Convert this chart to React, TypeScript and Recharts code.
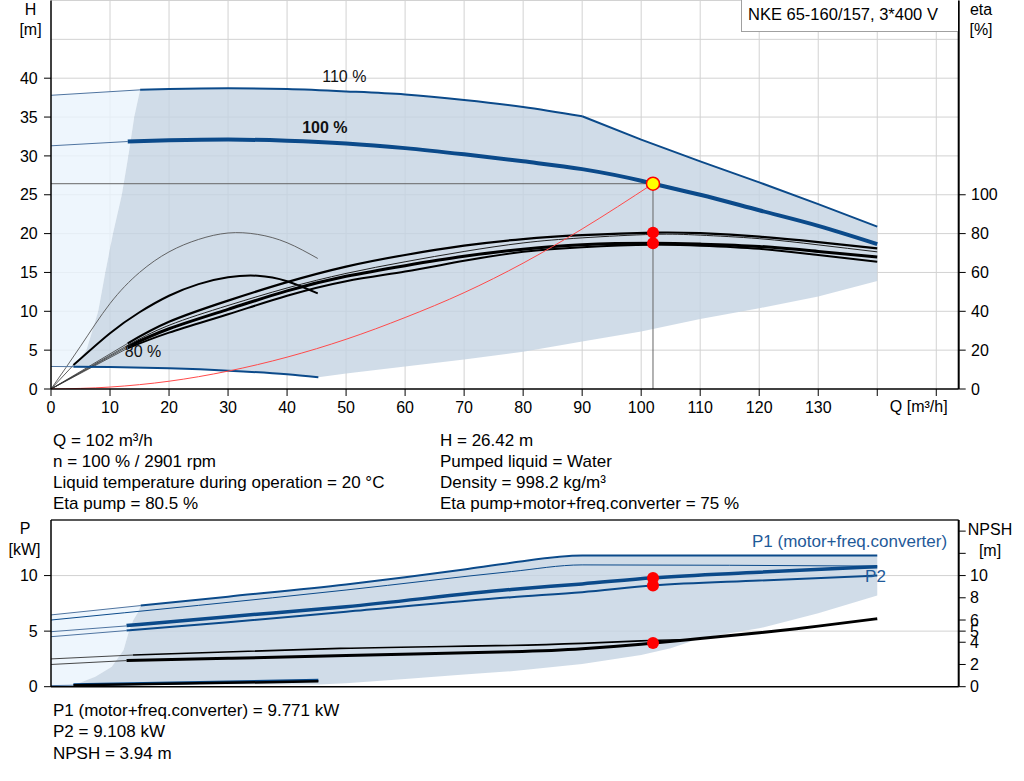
import React from 'react';
import {
  ComposedChart,
  Line,
  Area,
  XAxis,
  YAxis,
  CartesianGrid,
  ReferenceDot,
  ReferenceLine,
} from 'recharts';

// ---------- axes ----------
const qTicks = [0, 10, 20, 30, 40, 50, 60, 70, 80, 90, 100, 110, 120, 130, 140, 150];
const qGrid = [10, 20, 30, 40, 50, 60, 70, 80, 90, 100, 110, 120, 130, 140, 150];
const hTicks = [0, 5, 10, 15, 20, 25, 30, 35, 40];
const hGrid = [5, 10, 15, 20, 25, 30, 35, 40, 45, 50];
const etaTicks = [0, 20, 40, 60, 80, 100];
const pTicks = [0, 5, 10];
const pGrid = [5, 10];
const npshTicks = [0, 2, 4, 5, 6, 8, 10, 12, 14];

// ---------- duty point ----------
const opQ = 102;
const opH = 26.42;
const opEtaPump = 80.5;
const opEtaTotal = 75;
const opP1 = 9.771;
const opP2 = 9.108;
const opNpsh = 3.94;

// ---------- head curves [m] ----------
const h110ExtQ = [0, 15.1];
const h110ExtH = [37.8, 38.5];
const h110Q = [15.1, 20, 30, 40, 50, 60, 70, 80, 90];
const h110H = [38.5, 38.6, 38.7, 38.6, 38.3, 37.9, 37.2, 36.3, 35.1];
const h110DropQ = [90, 100, 110, 120, 130, 140];
const h110DropH = [35.1, 32.1, 29.3, 26.6, 23.8, 20.9];
const h100ExtQ = [0, 13];
const h100ExtH = [31.3, 31.85];
const h100Q = [13, 20, 30, 40, 50, 60, 70, 80, 90, 100, 102, 110, 120, 130, 140];
const h100H = [31.85, 32.0, 32.1, 31.95, 31.6, 31.0, 30.2, 29.3, 28.3, 26.8, 26.42, 25.0, 23.0, 21.0, 18.65];
const h80ExtQ = [0, 3.8];
const h80ExtH = [2.9, 2.87];
const h80Q = [3.8, 10, 20, 30, 40, 45.3];
const h80H = [2.87, 2.82, 2.66, 2.36, 1.89, 1.5];
const sysQ = [0, 10, 20, 30, 40, 50, 60, 70, 80, 90, 102];
const sysH = [0, 0.25, 1.0, 2.3, 4.1, 6.4, 9.2, 12.4, 16.2, 20.6, 26.42];

// operating range (head)
const hEdgeQ = [3.8, 6, 8, 9.2, 10.5, 12, 13.1, 14.1, 15.1];
const hEdgeH = [2.87, 5, 10, 15, 20, 25, 30, 35, 38.5];
const hLightLow0 = 2.9;
const hLightHigh = [37.8, 37.98, 38.08, 38.17, 38.23, 38.29, 38.36, 38.41, 38.45, 38.5];
const hRangeQ = [20, 30, 40, 45.3, 50, 60, 70, 80, 90, 100, 110, 120, 130, 140];
const hRangeLowEdge = [2.87, 2.85, 2.84, 2.83, 2.82, 2.8, 2.79, 2.78, 2.76];
const hRangeLow = [2.66, 2.36, 1.89, 1.5, 2.0, 2.9, 3.8, 4.8, 6.1, 7.4, 9.0, 10.4, 11.9, 13.9];
const hRangeHigh = [38.6, 38.7, 38.6, 38.5, 38.3, 37.9, 37.2, 36.3, 35.1, 32.1, 29.3, 26.6, 23.8, 20.9];

// ---------- efficiency curves [%] ----------
const etaQ = [13, 20, 30, 40, 50, 60, 70, 80, 90, 102, 110, 120, 130, 140];
const etaPump = [23.5, 34.6, 45.5, 55.0, 63.0, 69.0, 73.8, 77.2, 79.2, 80.5, 80.2, 78.4, 75.6, 72.4];
const etaPumpMax = [22.5, 32.8, 43.0, 52.0, 59.5, 65.5, 70.8, 75.2, 77.8, 79.6, 79.2, 77.4, 74.2, 70.6];
const etaTotal = [21.8, 31.0, 41.0, 50.5, 58.0, 63.5, 68.3, 72.0, 74.3, 75.0, 74.6, 73.4, 70.8, 68.0];
const etaTotalMax = [21.0, 29.0, 38.5, 48.0, 55.5, 60.5, 66.0, 70.6, 73.0, 74.2, 73.8, 72.2, 69.0, 65.5];
const etaExtQ = [0, 13];
const etaMinPumpQ = [0, 5, 10, 15, 20, 25, 30, 35, 40, 45.2];
const etaMinPump = [0, 22, 44, 60, 70.6, 77, 80.3, 79.6, 75.3, 67.2];
const etaMinTotalExtQ = [0, 3.8];
const etaMinTotalExt = [0, 12.3];
const etaMinTotalQ = [3.8, 10, 15, 20, 25, 30, 35, 40, 45.2];
const etaMinTotal = [12.3, 28.7, 39.5, 48.0, 54.0, 57.5, 58.3, 55.5, 49.2];

// ---------- power [kW] and NPSH [m] ----------
const p1MaxExtQ = [0, 15.2];
const p1MaxExt = [6.46, 7.3];
const p1MaxQ = [15.2, 30, 50, 60, 70, 78, 90, 140];
const p1Max = [7.3, 8.1, 9.2, 9.85, 10.55, 11.15, 11.8, 11.8];
const p2MaxQ = [0, 50, 78, 90, 140];
const p2Max = [6.0, 8.7, 10.36, 10.96, 10.85];
const pExtQ = [0, 12.8];
const p1Ext = [4.95, 5.47];
const p2Ext = [4.5, 5.05];
const pQ = [12.8, 30, 50, 78, 90, 102, 120, 140];
const p1 = [5.5, 6.3, 7.2, 8.75, 9.25, 9.8, 10.3, 10.8];
const p2 = [5.05, 5.8, 6.75, 8.05, 8.5, 9.1, 9.55, 10.0];
const pMinExtQ = [0, 3.8];
const pMinExt = [0.1, 0.13];
const pMinQ = [3.8, 45.3];
const p1Min = [0.18, 0.58];
const p2Min = [0.13, 0.48];
const npshMaxExtQ = [0, 13.9];
const npshMaxExt = [2.5, 2.85];
const npshMaxQ = [13.9, 49, 73, 90, 100, 107];
const npshMax = [2.85, 3.45, 3.67, 3.9, 4.12, 4.22];
const npshExtQ = [0, 12.8];
const npshExt = [2.0, 2.35];
const npshQ = [12.8, 30, 50, 78, 90, 100, 110, 120, 130, 140];
const npsh = [2.35, 2.55, 2.8, 3.15, 3.42, 3.83, 4.33, 4.85, 5.45, 6.12];

// operating range (power)
const pEdgeQ = [3.8, 7.5, 10.3, 12.3, 13.1, 13.95, 14.8, 15.2];
const pEdgeP = [0.12, 0.9, 1.8, 3.3, 4.8, 6.0, 6.75, 7.3];
const pLightLow0 = 0.1;
const pLightHigh = [6.46, 6.67, 6.87, 7.03, 7.14, 7.18, 7.23, 7.27, 7.3];
const pRangeLowEdge = [0.12, 0.13, 0.14, 0.15, 0.16, 0.16, 0.17, 0.17];
const pRangeQ = [20, 30, 45.3, 50, 60, 70, 78, 90, 100, 105, 110, 120, 130, 140];
const pRangeLow = [0.18, 0.19, 0.2, 0.3, 0.7, 1.1, 1.4, 2.05, 2.85, 3.45, 4.35, 5.25, 6.6, 8.2];
const pRangeHigh = [7.55, 8.1, 8.95, 9.2, 9.85, 10.55, 11.15, 11.8, 11.8, 11.8, 11.8, 11.8, 11.8, 11.8];

const infoLeft = [
  'Q = 102 m³/h',
  'n = 100 % / 2901 rpm',
  'Liquid temperature during operation = 20 °C',
  'Eta pump = 80.5 %',
];
const infoRight = [
  'H = 26.42 m',
  'Pumped liquid = Water',
  'Density = 998.2 kg/m³',
  'Eta pump+motor+freq.converter = 75 %',
];
const infoBottom = ['P1 (motor+freq.converter) = 9.771 kW', 'P2 = 9.108 kW', 'NPSH = 3.94 m'];

const FONT = '"Liberation Sans", Arial, sans-serif';
const BLUE = '#0b4a8a';
const BLUE_THIN = '#4f74a0';
const FILL_DARK = '#c4d3e2';
const FILL_LIGHT = '#eaf4fc';
const GRID = '#d2d2d2';
const RED = '#ff0000';

const rows = (qs: number[], vs: number[]) => qs.map((q, i) => ({ q, v: vs[i] }));
const band = (qs: number[], lo: number[], hi: number[]) =>
  qs.map((q, i) => ({ q, r: [lo[i], hi[i]] }));

const headLight = band([0, ...hEdgeQ], [hLightLow0, ...hEdgeH], hLightHigh);
const headRange = band(
  [...hEdgeQ, ...hRangeQ],
  [...hRangeLowEdge, ...hRangeLow],
  [...hEdgeH, ...hRangeHigh],
);
const powerLight = band([0, ...pEdgeQ], [pLightLow0, ...pEdgeP], pLightHigh);
const powerRange = band(
  [...pEdgeQ, ...pRangeQ],
  [...pRangeLowEdge, ...pRangeLow],
  [...pEdgeP, ...pRangeHigh],
);

type Curve = {
  id: string;
  data: { q: number; v: number }[];
  color: string;
  w: number;
  axis: string;
  kind?: 'monotone' | 'natural' | 'linear';
};

const headCurves: Curve[] = [
  { id: 'etaExtA', data: rows(etaExtQ, [0, etaPump[0]]), color: '#333', w: 0.8, axis: 'eta' },
  { id: 'etaExtB', data: rows(etaExtQ, [0, etaPumpMax[0]]), color: '#333', w: 0.8, axis: 'eta' },
  { id: 'etaExtC', data: rows(etaExtQ, [0, etaTotal[0]]), color: '#333', w: 0.8, axis: 'eta' },
  { id: 'etaExtD', data: rows(etaExtQ, [0, etaTotalMax[0]]), color: '#333', w: 0.8, axis: 'eta' },
  { id: 'etaMinPump', data: rows(etaMinPumpQ, etaMinPump), color: '#555', w: 0.9, axis: 'eta', kind: 'natural' },
  { id: 'etaMinTotExt', data: rows(etaMinTotalExtQ, etaMinTotalExt), color: '#333', w: 0.8, axis: 'eta' },
  { id: 'etaMinTot', data: rows(etaMinTotalQ, etaMinTotal), color: '#000', w: 2, axis: 'eta', kind: 'natural' },
  { id: 'etaD', data: rows(etaQ, etaTotalMax), color: '#000', w: 2, axis: 'eta', kind: 'natural' },
  { id: 'etaC', data: rows(etaQ, etaTotal), color: '#000', w: 3, axis: 'eta', kind: 'natural' },
  { id: 'etaB', data: rows(etaQ, etaPumpMax), color: '#222', w: 1, axis: 'eta', kind: 'natural' },
  { id: 'etaA', data: rows(etaQ, etaPump), color: '#000', w: 2.2, axis: 'eta', kind: 'natural' },
  { id: 'h110Ext', data: rows(h110ExtQ, h110ExtH), color: BLUE_THIN, w: 1, axis: 'h' },
  { id: 'h110', data: rows(h110Q, h110H), color: BLUE, w: 2, axis: 'h' },
  { id: 'h110Drop', data: rows(h110DropQ, h110DropH), color: BLUE, w: 2, axis: 'h', kind: 'linear' },
  { id: 'h100Ext', data: rows(h100ExtQ, h100ExtH), color: BLUE_THIN, w: 1, axis: 'h' },
  { id: 'h100', data: rows(h100Q, h100H), color: BLUE, w: 4, axis: 'h' },
  { id: 'h80Ext', data: rows(h80ExtQ, h80ExtH), color: BLUE_THIN, w: 1, axis: 'h' },
  { id: 'h80', data: rows(h80Q, h80H), color: BLUE, w: 2, axis: 'h' },
  { id: 'system', data: rows(sysQ, sysH), color: '#ff4a4a', w: 1, axis: 'h' },
];

const powerCurves: Curve[] = [
  { id: 'p1MaxExt', data: rows(p1MaxExtQ, p1MaxExt), color: BLUE_THIN, w: 1, axis: 'p' },
  { id: 'p1Max', data: rows(p1MaxQ, p1Max), color: BLUE, w: 2, axis: 'p' },
  { id: 'p2Max', data: rows(p2MaxQ, p2Max), color: BLUE, w: 1, axis: 'p' },
  { id: 'p1Ext', data: rows(pExtQ, p1Ext), color: BLUE_THIN, w: 1, axis: 'p' },
  { id: 'p1', data: rows(pQ, p1), color: BLUE, w: 3.5, axis: 'p' },
  { id: 'p2Ext', data: rows(pExtQ, p2Ext), color: BLUE_THIN, w: 1, axis: 'p' },
  { id: 'p2', data: rows(pQ, p2), color: BLUE, w: 2, axis: 'p' },
  { id: 'pMinExt', data: rows(pMinExtQ, pMinExt), color: BLUE_THIN, w: 1, axis: 'p' },
  { id: 'p1Min', data: rows(pMinQ, p1Min), color: BLUE, w: 3, axis: 'p' },
  { id: 'p2Min', data: rows(pMinQ, p2Min), color: '#000', w: 2.5, axis: 'p' },
  { id: 'npshMaxExt', data: rows(npshMaxExtQ, npshMaxExt), color: '#333', w: 0.9, axis: 'npsh' },
  { id: 'npshMax', data: rows(npshMaxQ, npshMax), color: '#000', w: 1.6, axis: 'npsh', kind: 'natural' },
  { id: 'npshExt', data: rows(npshExtQ, npshExt), color: '#333', w: 0.9, axis: 'npsh' },
  { id: 'npsh', data: rows(npshQ, npsh), color: '#000', w: 3, axis: 'npsh', kind: 'natural' },
];

const tickStyle = { fill: '#000', fontSize: 16, fontFamily: FONT };
const axisLine = { stroke: '#000', strokeWidth: 1.5 };
const tickLine = { stroke: '#000', strokeWidth: 1 };

function Tag({ x, y, text, size = 16, color = '#000', w = 80 }: any) {
  return (
    <div
      style={{
        position: 'absolute',
        left: x - w / 2,
        top: y - 10,
        width: w,
        height: 20,
        lineHeight: '20px',
        fontSize: size,
        color,
        textAlign: 'center',
        whiteSpace: 'nowrap',
      }}
    >
      {text}
    </div>
  );
}

function TextBlock({ x, y, lines }: { x: number; y: number; lines: string[] }) {
  return (
    <div style={{ position: 'absolute', left: x, top: y, fontSize: 17, lineHeight: '21.3px', whiteSpace: 'nowrap' }}>
      {lines.map((l) => (
        <div key={l}>{l}</div>
      ))}
    </div>
  );
}

function renderCurve(c: Curve) {
  return (
    <Line
      key={c.id}
      data={c.data}
      dataKey="v"
      xAxisId="q"
      yAxisId={c.axis}
      type={c.kind ?? 'monotone'}
      stroke={c.color}
      strokeWidth={c.w}
      dot={false}
      activeDot={false}
      isAnimationActive={false}
    />
  );
}

function HeadChart() {
  return (
    <ComposedChart width={1024} height={420} margin={{ top: 0.5, right: 15.3, bottom: 1, left: 11 }}>
      <Area xAxisId="q" yAxisId="h" data={headLight} dataKey="r" type="linear" stroke="none" fill={FILL_LIGHT} fillOpacity={0.8} isAnimationActive={false} />
      <Area xAxisId="q" yAxisId="h" data={headRange} dataKey="r" type="linear" stroke="none" fill={FILL_DARK} fillOpacity={0.8} isAnimationActive={false} />
      <CartesianGrid xAxisId="q" yAxisId="h" stroke={GRID} horizontalValues={hGrid} verticalValues={qGrid} />
      <XAxis
        xAxisId="q"
        type="number"
        dataKey="q"
        domain={[0, 153.8]}
        allowDataOverflow
        ticks={qTicks}
        interval={0}
        tickFormatter={(v: number) => (v >= 140 ? '' : String(v))}
        height={30}
        tick={tickStyle}
        axisLine={axisLine}
        tickLine={tickLine}
        tickSize={7}
        tickMargin={5.6}
      />
      <YAxis
        yAxisId="h"
        type="number"
        domain={[0, 50]}
        allowDataOverflow
        ticks={hTicks}
        interval={0}
        width={40}
        tick={tickStyle}
        axisLine={axisLine}
        tickLine={tickLine}
        tickSize={7}
        tickMargin={6.3}
      />
      <YAxis
        yAxisId="eta"
        orientation="right"
        type="number"
        domain={[0, 200]}
        allowDataOverflow
        ticks={etaTicks}
        interval={0}
        width={50}
        tick={{ ...tickStyle, textAnchor: 'start' }}
        axisLine={{ stroke: '#000', strokeWidth: 2 }}
        tickLine={tickLine}
        tickSize={7}
        tickMargin={5.3}
      />
      <ReferenceLine xAxisId="q" yAxisId="h" segment={[{ x: 0, y: opH }, { x: opQ, y: opH }]} stroke="#666" strokeWidth={1} />
      <ReferenceLine xAxisId="q" yAxisId="h" segment={[{ x: opQ, y: 0 }, { x: opQ, y: opH }]} stroke="#666" strokeWidth={1} />
      {headCurves.map(renderCurve)}
      <ReferenceDot xAxisId="q" yAxisId="eta" x={opQ} y={opEtaPump} r={6} fill={RED} stroke="none" />
      <ReferenceDot xAxisId="q" yAxisId="eta" x={opQ} y={opEtaTotal} r={6} fill={RED} stroke="none" />
      <ReferenceDot xAxisId="q" yAxisId="h" x={opQ} y={opH} r={6.5} fill="#ffff00" stroke={RED} strokeWidth={1.5} />
      <ReferenceDot xAxisId="q" yAxisId="h" x={49.7} y={40.2} r={0} label={{ value: '110 %', position: 'center', fill: '#111', fontSize: 16 }} />
      <ReferenceDot xAxisId="q" yAxisId="h" x={46.4} y={33.7} r={0} label={{ value: '100 %', position: 'center', fill: '#111', fontSize: 16, fontWeight: 'bold' }} />
      <ReferenceDot xAxisId="q" yAxisId="h" x={15.6} y={4.9} r={0} label={{ value: '80 %', position: 'center', fill: '#111', fontSize: 16 }} />
    </ComposedChart>
  );
}

function PowerChart() {
  return (
    <ComposedChart width={1024} height={200} margin={{ top: 20, right: 15.3, bottom: 3.3, left: 11 }}>
      <Area xAxisId="q" yAxisId="p" data={powerLight} dataKey="r" type="linear" stroke="none" fill={FILL_LIGHT} fillOpacity={0.8} isAnimationActive={false} />
      <Area xAxisId="q" yAxisId="p" data={powerRange} dataKey="r" type="linear" stroke="none" fill={FILL_DARK} fillOpacity={0.8} isAnimationActive={false} />
      <CartesianGrid xAxisId="q" yAxisId="p" stroke={GRID} horizontalValues={pGrid} verticalValues={qGrid} />
      <XAxis
        xAxisId="q"
        type="number"
        dataKey="q"
        domain={[0, 153.8]}
        allowDataOverflow
        ticks={qTicks}
        height={10}
        tick={false}
        tickLine={false}
        axisLine={axisLine}
      />
      <YAxis
        yAxisId="p"
        type="number"
        domain={[0, 15]}
        allowDataOverflow
        ticks={pTicks}
        interval={0}
        width={40}
        tick={tickStyle}
        axisLine={axisLine}
        tickLine={tickLine}
        tickSize={7}
        tickMargin={6.3}
      />
      <YAxis
        yAxisId="npsh"
        orientation="right"
        type="number"
        domain={[0, 15]}
        allowDataOverflow
        ticks={npshTicks}
        interval={0}
        tickFormatter={(v: number) => (v >= 12 ? '' : String(v))}
        width={50}
        tick={{ ...tickStyle, textAnchor: 'start' }}
        axisLine={{ stroke: '#000', strokeWidth: 2 }}
        tickLine={tickLine}
        tickSize={7}
        tickMargin={4.3}
      />
      <ReferenceLine xAxisId="q" yAxisId="p" y={15} stroke="#222" strokeWidth={1.5} />
      {powerCurves.map(renderCurve)}
      <ReferenceDot xAxisId="q" yAxisId="p" x={opQ} y={opP1} r={6} fill={RED} stroke="none" />
      <ReferenceDot xAxisId="q" yAxisId="p" x={opQ} y={opP2} r={6} fill={RED} stroke="none" />
      <ReferenceDot xAxisId="q" yAxisId="npsh" x={opQ} y={opNpsh} r={6} fill={RED} stroke="none" />
      <ReferenceDot xAxisId="q" yAxisId="p" x={135.3} y={13.15} r={0} label={{ value: 'P1 (motor+freq.converter)', position: 'center', fill: '#1f5a99', fontSize: 17 }} />
      <ReferenceDot xAxisId="q" yAxisId="p" x={139.7} y={10.0} r={0} label={{ value: 'P2', position: 'center', fill: '#1f5a99', fontSize: 17 }} />
    </ComposedChart>
  );
}

export default function App() {
  return (
    <div
      style={{
        position: 'absolute',
        left: 0,
        top: 0,
        width: 1024,
        height: 781,
        overflow: 'hidden',
        background: '#fff',
        fontFamily: FONT,
        color: '#000',
      }}
    >
      <div style={{ position: 'absolute', left: 0, top: 0 }}>
        <HeadChart />
      </div>
      <div style={{ position: 'absolute', left: 0, top: 500 }}>
        <PowerChart />
      </div>

      <div
        style={{
          position: 'absolute',
          left: 741,
          top: -1,
          width: 216.5,
          height: 33,
          background: '#fff',
          border: '1px solid #a0a0a0',
          borderRight: 'none',
          fontSize: 16.5,
          lineHeight: '28px',
          paddingLeft: 6,
          boxSizing: 'border-box',
          whiteSpace: 'nowrap',
        }}
      >
        NKE 65-160/157, 3*400 V
      </div>

      <Tag x={30.5} y={10} text="H" />
      <Tag x={30.5} y={30} text="[m]" />
      <Tag x={981} y={10} text="eta" />
      <Tag x={981} y={30} text="[%]" />
      <Tag x={918.7} y={407.3} text="Q [m³/h]" w={100} />
      <Tag x={25} y={529} text="P" />
      <Tag x={24.5} y={550} text="[kW]" />
      <Tag x={990} y={530} text="NPSH" w={60} />
      <Tag x={990} y={550.7} text="[m]" w={60} />

      <TextBlock x={53} y={429.5} lines={infoLeft} />
      <TextBlock x={440} y={429.5} lines={infoRight} />
      <TextBlock x={53} y={700} lines={infoBottom} />
    </div>
  );
}
